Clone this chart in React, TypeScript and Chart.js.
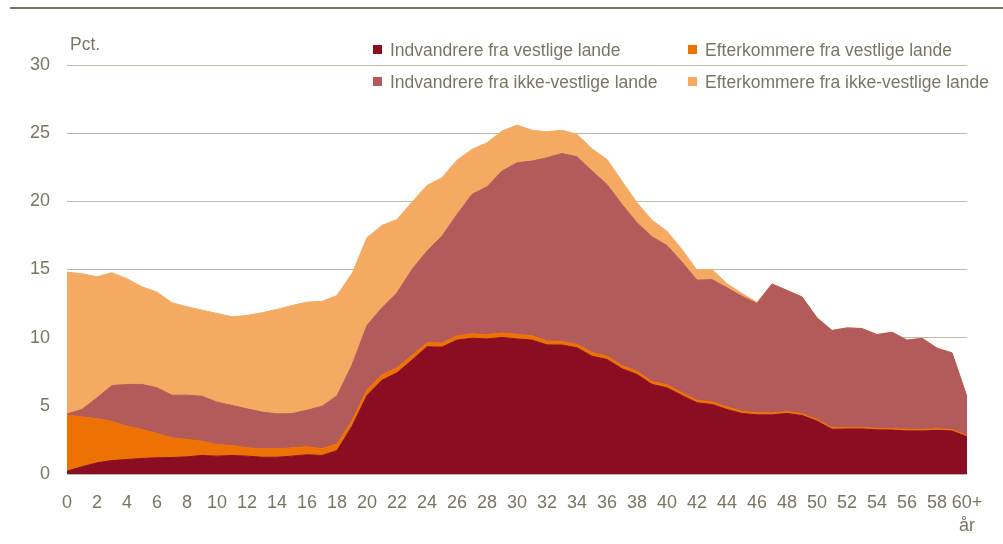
import React, { useEffect, useRef } from "react";
import { Chart, registerables } from "chart.js";

Chart.register(...registerables);

// ---------- DATA ----------
const ageLabels = [
  "0","1","2","3","4","5","6","7","8","9",
  "10","11","12","13","14","15","16","17","18","19",
  "20","21","22","23","24","25","26","27","28","29",
  "30","31","32","33","34","35","36","37","38","39",
  "40","41","42","43","44","45","46","47","48","49",
  "50","51","52","53","54","55","56","57","58","59",
  "60+",
];
const lastLabelSub = "år";
const yUnit = "Pct.";

const seriesNames = [
  "Indvandrere fra vestlige lande",
  "Efterkommere fra vestlige lande",
  "Indvandrere fra ikke-vestlige lande",
  "Efterkommere fra ikke-vestlige lande",
];

// Indvandrere fra vestlige lande
const indvVestlige = [
  0.21, 0.53, 0.82, 0.99, 1.06, 1.14, 1.19, 1.21, 1.26, 1.36,
  1.31, 1.36, 1.31, 1.23, 1.23, 1.31, 1.41, 1.36, 1.72, 3.5,
  5.76, 6.88, 7.42, 8.35, 9.33, 9.31, 9.82, 9.96, 9.91, 10.01,
  9.91, 9.82, 9.47, 9.46, 9.26, 8.64, 8.4, 7.72, 7.3, 6.57,
  6.32, 5.76, 5.22, 5.1, 4.73, 4.44, 4.34, 4.34, 4.44, 4.29,
  3.88, 3.28, 3.3, 3.3, 3.24, 3.22, 3.16, 3.16, 3.2, 3.16,
  2.73,
];
// Efterkommere fra vestlige lande
const efterVestlige = [
  4.11, 3.66, 3.23, 2.86, 2.45, 2.12, 1.78, 1.44, 1.27, 1.05,
  0.85, 0.73, 0.61, 0.62, 0.62, 0.61, 0.59, 0.49, 0.48, 0.4,
  0.42, 0.4, 0.37, 0.34, 0.3, 0.3, 0.3, 0.32, 0.32, 0.33,
  0.33, 0.32, 0.28, 0.26, 0.25, 0.27, 0.24, 0.24, 0.23, 0.22,
  0.23, 0.2, 0.19, 0.2, 0.19, 0.17, 0.15, 0.13, 0.14, 0.13,
  0.12, 0.11, 0.11, 0.11, 0.11, 0.11, 0.11, 0.11, 0.11, 0.11,
  0.09,
];
// Indvandrere fra ikke-vestlige lande
const indvIkkeVestlige = [
  0.09, 0.54, 1.54, 2.64, 3.06, 3.31, 3.35, 3.13, 3.25, 3.3,
  3.11, 2.94, 2.86, 2.69, 2.56, 2.51, 2.68, 3.12, 3.54, 4.1,
  4.72, 4.91, 5.5, 6.31, 6.72, 7.84, 8.92, 10.23, 10.84, 11.88,
  12.59, 12.81, 13.45, 13.79, 13.76, 13.31, 12.6, 11.81, 10.9, 10.61,
  10.21, 9.58, 8.81, 8.96, 8.74, 8.43, 8.02, 9.46, 8.88, 8.56,
  7.45, 7.13, 7.3, 7.25, 6.87, 7.06, 6.54, 6.68, 5.91, 5.61,
  2.83,
];
// Efterkommere fra ikke-vestlige lande
const efterIkkeVestlige = [
  10.4, 9.96, 8.88, 8.27, 7.75, 7.16, 7.02, 6.78, 6.49, 6.31,
  6.51, 6.5, 6.85, 7.29, 7.66, 7.93, 7.93, 7.69, 7.36, 6.7,
  6.43, 6.04, 5.38, 4.94, 4.82, 4.28, 3.98, 3.3, 3.23, 2.93,
  2.76, 2.27, 1.9, 1.71, 1.64, 1.64, 1.83, 1.71, 1.47, 1.22,
  1.05, 0.93, 0.73, 0.74, 0.3, 0.2, 0.08, 0.02, 0.02, 0.02,
  0.02, 0.02, 0.02, 0.02, 0.02, 0.02, 0.02, 0.02, 0.02, 0.02,
  0.02,
];

const yMin = 0;
const yMax = 30;
const yStep = 5;

// ---------- STYLE ----------
const seriesColors = ["#8b0d22", "#ee7203", "#b35b5a", "#f5aa62"];
const textColor = "#7a7563";
const gridColor = "#bdbaa9";
const ruleColor = "#7a735f";
const FONT = "'Liberation Sans', Arial, sans-serif";

export default function App() {
  const canvasRef = useRef<HTMLCanvasElement | null>(null);

  useEffect(() => {
    if (!canvasRef.current) return;
    const values = [indvVestlige, efterVestlige, indvIkkeVestlige, efterIkkeVestlige];
    const chart = new Chart(canvasRef.current, {
      type: "line",
      data: {
        labels: ageLabels,
        datasets: values.map((v, i) => ({
          label: seriesNames[i],
          data: v,
          backgroundColor: seriesColors[i],
          borderColor: seriesColors[i],
          borderWidth: 1,
          fill: i === 0 ? "origin" : "-1",
          pointRadius: 0,
          tension: 0,
        })),
      },
      options: {
        animation: false,
        responsive: false,
        maintainAspectRatio: false,
        layout: { padding: { top: 65, right: 36, bottom: 0, left: 0 } },
        plugins: {
          legend: { display: false },
          tooltip: { enabled: false },
        },
        scales: {
          x: {
            grid: { display: false, drawTicks: false },
            border: { display: false },
            ticks: {
              autoSkip: false,
              maxRotation: 0,
              minRotation: 0,
              padding: 17,
              color: textColor,
              font: { family: FONT, size: 18, lineHeight: 1.3 },
              callback: (_v: any, i: number) => {
                if (i % 2 !== 0) return "";
                if (i === ageLabels.length - 1) return [ageLabels[i], lastLabelSub];
                return ageLabels[i];
              },
            },
            afterFit: (s: any) => {
              s.height = 70;
            },
          },
          y: {
            stacked: true,
            min: yMin,
            max: yMax,
            ticks: {
              stepSize: yStep,
              padding: 17,
              color: textColor,
              font: { family: FONT, size: 18 },
            },
            grid: { color: gridColor, drawTicks: false, lineWidth: 1 },
            border: { display: false },
            afterFit: (s: any) => {
              s.width = 67;
            },
          },
        },
      },
    });
    return () => chart.destroy();
  }, []);

  const legendPos = [
    { x: 373, y: 49.5 },
    { x: 688, y: 49.5 },
    { x: 373, y: 81.5 },
    { x: 688, y: 81.5 },
  ];

  return (
    <div style={{ position: "absolute", left: 0, top: 0, width: 1003, height: 544, background: "#fff", overflow: "hidden" }}>
      <canvas ref={canvasRef} width={1003} height={544} style={{ position: "absolute", left: 0, top: 0 }} />
      <div style={{ position: "absolute", left: 10, top: 7, width: 993, height: 2, background: ruleColor }} />
      <div
        style={{
          position: "absolute", left: 70, top: 31.5, lineHeight: "24px",
          fontFamily: FONT, fontSize: 17.5, color: textColor, whiteSpace: "nowrap",
        }}
      >
        {yUnit}
      </div>
      {seriesNames.map((name, i) => (
        <div
          key={name}
          style={{
            position: "absolute", left: legendPos[i].x, top: legendPos[i].y - 12, height: 24,
            display: "flex", alignItems: "center", whiteSpace: "nowrap",
            fontFamily: FONT, fontSize: 17.5, color: textColor,
          }}
        >
          <span style={{ display: "inline-block", width: 9, height: 9, background: seriesColors[i], marginRight: 8 }} />
          <span style={{ lineHeight: "24px" }}>{name}</span>
        </div>
      ))}
    </div>
  );
}
